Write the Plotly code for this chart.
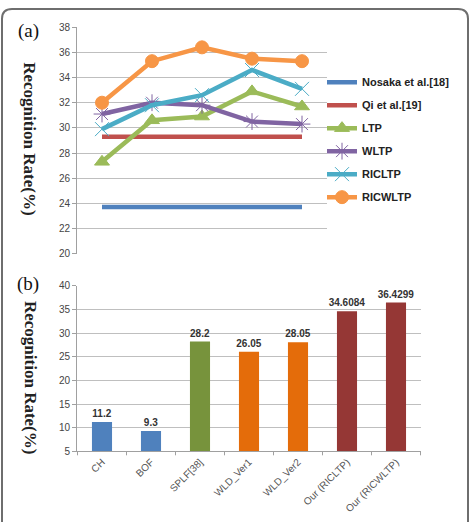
import plotly.graph_objects as go

W, H = 470, 522

# ---- panel (a) data ----
steps = ["1", "2", "3", "4", "5"]
nosaka = [23.7, 23.7, 23.7, 23.7, 23.7]
qi = [29.3, 29.3, 29.3, 29.3, 29.3]
ltp = [27.3, 30.6, 30.9, 32.9, 31.7]
wltp = [31.1, 32.0, 31.8, 30.5, 30.3]
ricltp = [29.9, 31.8, 32.6, 34.6, 33.1]
ricwltp = [32.0, 35.3, 36.4, 35.5, 35.3]

# ---- panel (b) data ----
methods = ["CH", "BOF", "SPLF[38]", "WLD_Ver1", "WLD_Ver2", "Our (RICLTP)", "Our (RICWLTP)"]
rates = [11.2, 9.3, 28.2, 26.05, 28.05, 34.6084, 36.4299]
rate_labels = ["11.2", "9.3", "28.2", "26.05", "28.05", "34.6084", "36.4299"]
bar_colors = ["#4F81BD", "#4F81BD", "#77933C", "#E46C0A", "#E46C0A", "#953735", "#953735"]

fig = go.Figure()

series = [
    ("Nosaka et al.[18]", nosaka, "#4F81BD", None),
    ("Qi et al.[19]", qi, "#C0504D", None),
    ("LTP", ltp, "#9BBB59", "triangle-up"),
    ("WLTP", wltp, "#8064A2", "asterisk-open"),
    ("RICLTP", ricltp, "#4BACC6", "x-thin-open"),
    ("RICWLTP", ricwltp, "#F79646", "circle"),
]
for name, vals, col, sym in series:
    mode = "lines+markers" if sym else "lines"
    mk = dict(symbol=sym, size=13, color=col, line=dict(width=1, color=col)) if sym else None
    if sym in ("asterisk-open", "x-thin-open"):
        mk = dict(symbol=sym, size=14, color=col, line=dict(width=1, color="#9aa0b0"))
    fig.add_trace(go.Scatter(x=steps, y=vals, name=name, mode=mode, legendgroup=name,
                             line=dict(color=col, width=4.5), marker=mk,
                             xaxis="x", yaxis="y"))

fig.add_trace(go.Bar(x=methods, y=rates, marker=dict(color=bar_colors, line=dict(width=0)),
                     text=rate_labels, textposition="outside", constraintext="none",
                     textfont=dict(family="Liberation Sans", size=10, color="#333", weight="bold"),
                     cliponaxis=False, showlegend=False, xaxis="x2", yaxis="y2"))

x0, x1a, x1b = 77 / W, 327 / W, 421 / W
fig.update_layout(
    width=W, height=H, margin=dict(l=0, r=0, t=0, b=0),
    paper_bgcolor="white", plot_bgcolor="white",
    font=dict(family="Liberation Sans", size=10, color="#444"),
    bargap=0.59,
    xaxis=dict(domain=[x0, x1a], range=[-0.5, 4.5], showticklabels=False, showgrid=False,
               zeroline=False, showline=False, ticks=""),
    yaxis=dict(domain=[(H - 254) / H, (H - 22.7) / H], range=[20, 38], dtick=2,
               showgrid=True, gridcolor="#BFBFBF", gridwidth=1, zeroline=False,
               showline=True, linecolor="#A0A0A0", ticks="outside", ticklen=4,
               tickcolor="#A0A0A0", tickfont=dict(size=10, color="#444")),
    xaxis2=dict(domain=[x0, x1b], showgrid=False, zeroline=False, showline=True,
                linecolor="#A0A0A0", ticks="", tickangle=-45,
                tickfont=dict(size=10, color="#555"), anchor="y2"),
    yaxis2=dict(domain=[(H - 456) / H, (H - 286.7) / H], range=[5, 40], dtick=5,
                showgrid=True, gridcolor="#BFBFBF", gridwidth=1, zeroline=False,
                showline=True, linecolor="#A0A0A0", ticks="outside", ticklen=4,
                tickcolor="#A0A0A0", tickfont=dict(size=10, color="#444"), anchor="x2"),
    legend=dict(x=322 / W, y=(H - 64) / H, xanchor="left", yanchor="top",
                bgcolor="rgba(0,0,0,0)",
                font=dict(family="Liberation Sans", size=11, color="#222", weight="bold"),
                itemwidth=30, traceorder="grouped", tracegroupgap=4),
    showlegend=True,
)

# category boundary tick marks on (b) x axis
for i in range(len(methods) + 1):
    fig.add_shape(type="line", xref="x2", yref="paper", x0=i - 0.5, x1=i - 0.5,
                  y0=(H - 456) / H, y1=(H - 460) / H, line=dict(color="#A0A0A0", width=1))

# rounded outer frame (open at the bottom)
fig.add_shape(type="path", xref="paper", yref="paper",
              path=f"M {2/W} {-10/H} L {2/W} {(H-14)/H} Q {2/W} {(H-4)/H} {12/W} {(H-4)/H} "
                   f"L {458/W} {(H-4)/H} Q {468/W} {(H-4)/H} {468/W} {(H-14)/H} L {468/W} {-10/H}",
              line=dict(color="#6E6E6E", width=2))

serif = "Liberation Serif"
ann = dict(xref="paper", yref="paper", showarrow=False, xanchor="center", yanchor="middle")
fig.add_annotation(text="(a)", x=28 / W, y=(H - 27) / H,
                   font=dict(family=serif, size=19, color="#111"), **ann)
fig.add_annotation(text="(b)", x=28 / W, y=(H - 285) / H,
                   font=dict(family=serif, size=19, color="#111"), **ann)
fig.add_annotation(text="<b>Recognition Rate(%)</b>", x=30 / W, y=(H - 136) / H, textangle=90,
                   font=dict(family=serif, size=17, color="#222"), **ann)
fig.add_annotation(text="<b>Recognition Rate(%)</b>", x=30 / W, y=(H - 380) / H, textangle=90,
                   font=dict(family=serif, size=17, color="#222"), **ann)

fig.write_html("out.html")
